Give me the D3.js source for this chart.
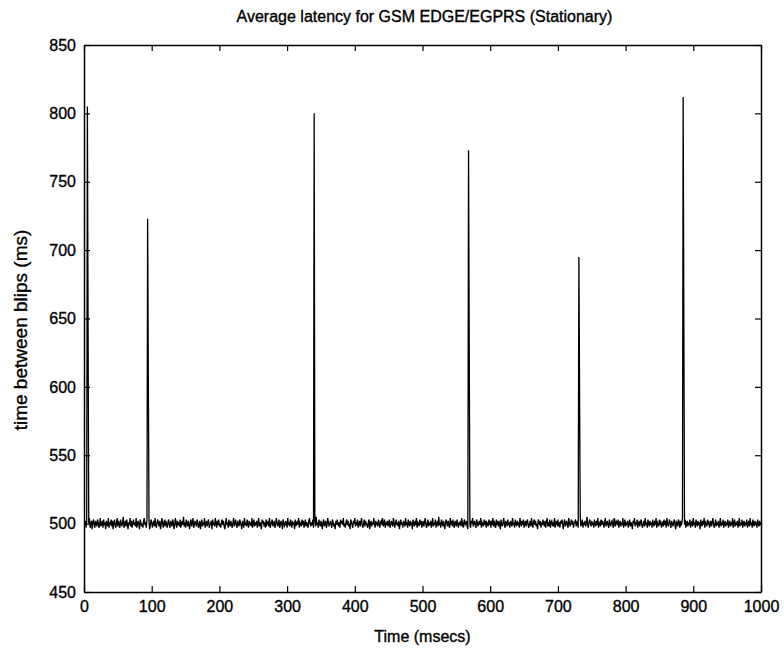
<!DOCTYPE html>
<html>
<head>
<meta charset="utf-8">
<script src="https://cdn.jsdelivr.net/npm/d3@7"></script>
<style>
  body { margin: 0; background: #fff; }
  svg { display: block; }
  text { font-family: "Liberation Sans", Arial, sans-serif; fill: #000; stroke: #000; stroke-width: 0.35px; }
</style>
</head>
<body>
<div id="chart"></div>
<script>
// 图表文字
const title = 'Average latency for GSM EDGE/EGPRS (Stationary)';
const xLabel = 'Time (msecs)';
const yLabel = 'time between blips (ms)';

// 坐标轴刻度
const xTicks = [0, 100, 200, 300, 400, 500, 600, 700, 800, 900, 1000];
const yTicks = [450, 500, 550, 600, 650, 700, 750, 800, 850];

// 基线抖动 (t = 1..1000)
const baseline = [
  499,502,497,501,503,498,500,504,497,499,502,496,501,503,499,497,502,500,498,503,501,497,499,504,498,
  500,502,497,503,499,501,496,502,500,498,504,497,501,499,503,498,502,496,500,503,499,497,501,504,498,
  502,499,497,503,500,498,501,505,497,499,502,498,503,500,496,501,499,504,498,502,497,500,503,499,501,
  498,504,497,500,502,499,496,503,501,498,500,497,502,504,499,501,497,503,498,500,502,496,499,503,501,
  497,500,502,498,504,499,497,501,503,500,498,502,496,499,504,501,497,500,503,498,502,499,497,501,503,
  499,497,502,500,498,503,501,496,499,504,500,497,502,499,501,498,503,497,500,502,499,505,498,501,497,
  503,500,498,502,499,496,501,503,498,500,504,497,499,502,500,498,503,501,497,499,502,496,500,503,498,
  501,499,504,497,500,502,498,501,503,497,499,500,502,496,503,499,501,498,504,500,497,502,499,503,498,
  500,497,501,503,499,502,498,496,500,504,499,501,497,503,500,498,502,499,497,501,504,498,500,503,499,
  497,502,500,498,503,501,499,496,502,500,497,504,499,501,498,503,500,497,502,499,501,498,504,497,500,
  503,498,501,499,502,497,500,504,498,501,499,496,503,500,502,498,501,497,503,499,500,502,498,504,497,
  499,501,503,498,500,502,497,499,504,501,498,500,503,497,499,502,500,496,503,501,498,499,502,500,497,
  504,499,501,498,503,500,497,502,499,501,496,503,498,500,502,499,504,497,501,500,498,503,499,502,497,
  500,503,498,501,499,497,502,504,500,498,501,499,503,497,500,502,498,505,499,501,497,503,500,498,502,
  499,496,501,503,498,500,502,497,499,504,501,498,500,502,499,497,503,501,498,500,496,502,499,503,500,
  498,501,497,503,500,502,499,504,498,500,497,501,503,499,502,498,500,496,503,501,499,497,502,500,504,
  498,501,499,503,497,500,502,498,501,504,499,497,500,503,498,502,500,499,497,501,503,496,500,502,498,
  501,499,504,500,497,502,499,501,498,503,500,497,501,502,499,504,498,500,503,497,501,499,502,498,500,
  503,497,499,502,500,498,504,501,497,500,503,499,501,498,502,496,500,503,499,501,497,502,500,498,504,
  499,501,497,503,500,498,502,499,501,496,503,500,498,502,499,504,497,501,500,498,503,499,502,497,500,
  502,498,501,504,499,497,500,503,498,501,499,502,497,500,504,498,501,499,503,497,500,502,498,505,499,
  501,497,503,500,498,502,499,496,501,503,500,498,502,499,497,504,500,501,498,503,499,497,502,500,498,
  503,500,497,501,499,502,498,504,500,497,501,503,499,500,502,498,496,503,501,499,497,502,500,504,498,
  500,502,499,497,503,501,498,500,502,499,504,497,501,500,498,503,499,502,497,501,500,498,503,499,502,
  497,501,500,504,498,502,499,497,503,500,501,498,502,499,496,503,500,498,501,504,499,497,502,500,498,
  503,499,501,497,502,500,498,504,499,501,497,503,500,498,502,499,501,497,504,500,498,502,499,503,497,
  500,502,498,501,503,499,497,500,502,498,504,500,497,501,503,499,502,498,500,496,503,501,499,502,497,
  501,499,503,500,498,502,497,501,504,499,500,498,503,497,501,502,499,500,498,504,497,502,500,499,503,
  498,501,497,502,500,503,499,496,501,503,498,500,502,499,497,504,501,498,500,503,499,502,497,500,501,
  503,498,500,502,497,501,499,504,498,500,503,497,501,499,502,498,500,505,499,497,501,503,500,498,502,
  499,501,497,503,500,498,502,499,504,497,500,501,498,503,499,502,500,497,501,504,498,500,502,499,497,
  503,500,498,501,502,499,497,504,500,498,502,501,499,503,497,500,502,498,501,499,504,497,500,503,498,
  501,499,502,497,500,503,498,501,499,496,502,500,504,498,501,499,503,497,500,502,498,501,503,499,497,
  500,502,498,504,499,501,497,503,500,498,502,499,501,497,503,500,498,502,499,504,497,501,500,498,503,
  499,502,497,500,501,498,503,499,502,497,504,500,498,501,503,499,497,502,500,498,501,503,499,496,502,
  500,498,503,501,497,502,499,500,504,498,501,499,503,497,500,502,498,501,499,503,497,500,502,498,504,
  499,501,497,503,500,498,502,499,501,496,503,500,498,502,499,504,497,501,500,498,503,499,502,497,500,
  502,498,501,504,499,497,500,503,498,501,499,502,497,500,504,498,501,499,503,497,500,502,498,501,499,
  503,497,500,502,498,501,499,504,497,500,503,498,501,499,502,497,500,504,498,501,499,503,497,500,502,
  498,501,499,503,497,500,502,498,504,499,501,497,503,500,498,502,499,501,497,503,500,498,502,499,501
];

// 尖峰 (时刻与数值)
const spikeTimes  = [5,   6,   94,  95,  340, 568, 569, 731, 732, 885, 886];
const spikeValues = [805, 650, 723, 610, 800, 773, 635, 695, 598, 812, 655];

const width = 784, height = 652;
const margin = { top: 45, right: 23, bottom: 60, left: 84 };
const innerW = width - margin.left - margin.right;
const innerH = height - margin.top - margin.bottom;

const svg = d3.select('#chart').append('svg')
  .attr('width', width)
  .attr('height', height);

const g = svg.append('g')
  .attr('transform', `translate(${margin.left},${margin.top})`);

const x = d3.scaleLinear().domain([0, 1000]).range([0, innerW]);
const y = d3.scaleLinear().domain([450, 850]).range([innerH, 0]);

// 合并基线与尖峰
const series = baseline.map((v, i) => ({ t: i + 1, v }));
spikeTimes.forEach((t, k) => { series[t - 1].v = spikeValues[k]; });

const line = d3.line()
  .x(d => x(d.t))
  .y(d => y(d.v));

g.append('path')
  .datum(series)
  .attr('fill', 'none')
  .attr('stroke', '#000')
  .attr('stroke-width', 1.3)
  .attr('d', line);

// 坐标轴 (刻度向内)
const tickLen = 6;
const fontSize = 16;

const xAxisB = d3.axisBottom(x).tickValues(xTicks).tickSizeInner(-tickLen).tickSizeOuter(0).tickPadding(9).tickFormat(d3.format('d'));
const xAxisT = d3.axisTop(x).tickValues(xTicks).tickSizeInner(-tickLen).tickSizeOuter(0).tickFormat('');
const yAxisL = d3.axisLeft(y).tickValues(yTicks).tickSizeInner(-tickLen).tickSizeOuter(0).tickPadding(8);
const yAxisR = d3.axisRight(y).tickValues(yTicks).tickSizeInner(-tickLen).tickSizeOuter(0).tickFormat('');

function style(sel) {
  sel.select('.domain').attr('stroke', '#000').attr('stroke-width', 1.5);
  sel.selectAll('.tick line').attr('stroke', '#000').attr('stroke-width', 1.2);
  sel.selectAll('.tick text')
    .style('font-size', fontSize + 'px')
    .style('font-family', '"Liberation Sans", Arial, sans-serif')
    .attr('fill', '#000');
}

g.append('g').attr('transform', `translate(0,${innerH})`).call(xAxisB).call(style);
g.append('g').call(xAxisT).call(style);
g.append('g').call(yAxisL).call(style);
g.append('g').attr('transform', `translate(${innerW},0)`).call(yAxisR).call(style);

// 标题与轴标签
svg.append('text')
  .attr('x', margin.left + innerW / 2 + 2)
  .attr('y', 22)
  .attr('text-anchor', 'middle')
  .style('font-size', '16px')
  .text(title);

svg.append('text')
  .attr('x', margin.left + innerW / 2)
  .attr('y', 642)
  .attr('text-anchor', 'middle')
  .style('font-size', '16px')
  .text(xLabel);

svg.append('text')
  .attr('transform', `translate(27,330) rotate(-90)`)
  .attr('text-anchor', 'middle')
  .style('font-size', '19px')
  .text(yLabel);
</script>
</body>
</html>
